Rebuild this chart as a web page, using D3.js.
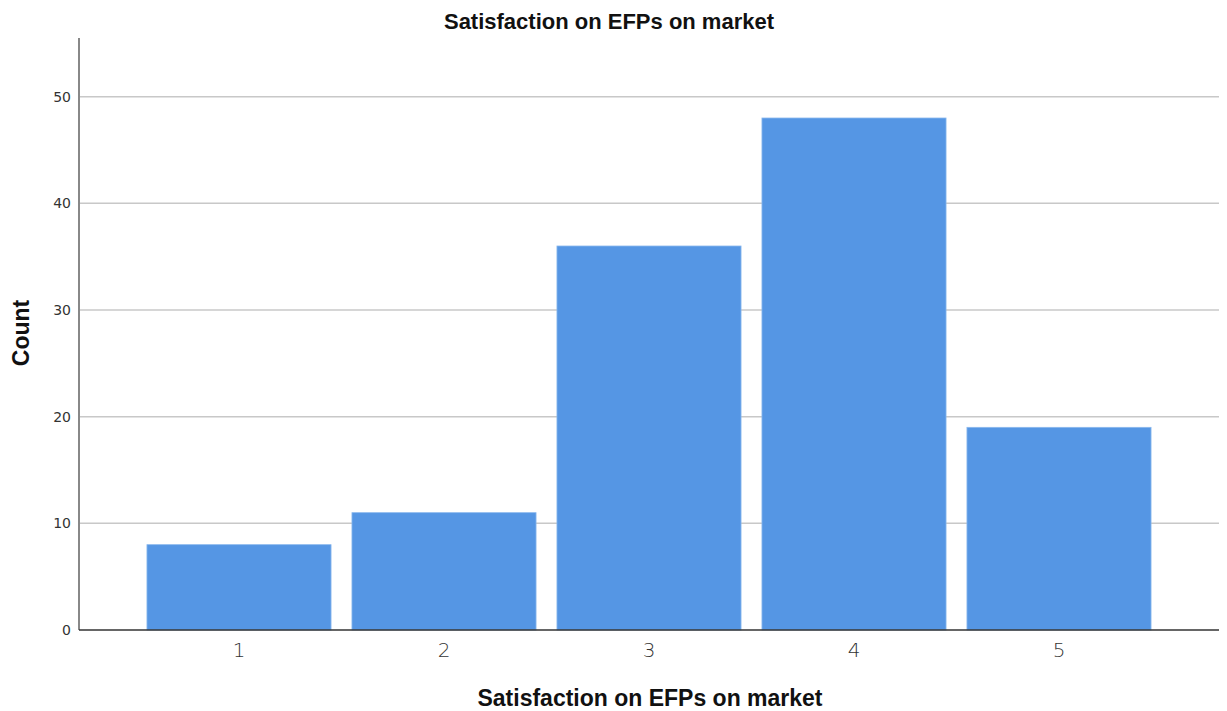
<!DOCTYPE html>
<html>
<head>
<meta charset="utf-8">
<script src="https://cdn.jsdelivr.net/npm/d3@7"></script>
<style>
  body { margin: 0; background: #fff; }
  text { font-family: "Liberation Sans", Arial, sans-serif; }
</style>
</head>
<body>
<svg></svg>
<script>
// data
var categories = ['1', '2', '3', '4', '5'];
var counts = [8, 11, 36, 48, 19];
var yTicks = [0, 10, 20, 30, 40, 50];

var W = 1227, H = 711;
// plotgebied (geen 'top' als naam, dat is window.top)
var plot = { left: 79, right: 1219, top: 38, bottom: 630 };

var svg = d3.select('svg')
    .attr('width', W)
    .attr('height', H);

// schalen
var x = d3.scaleBand()
    .domain(categories)
    .range([plot.left, plot.right])
    .paddingInner(0.102)
    .paddingOuter(0.3315);

var y = d3.scaleLinear()
    .domain([0, 55.5])
    .range([plot.bottom, plot.top]);

// gridlijnen
svg.append('g')
  .selectAll('line')
  .data(yTicks.filter(function(d) { return d > 0; }))
  .enter()
  .append('line')
    .attr('x1', plot.left)
    .attr('x2', plot.right)
    .attr('y1', function(d) { return y(d); })
    .attr('y2', function(d) { return y(d); })
    .attr('stroke', '#c8c8c8')
    .attr('stroke-width', 1.5);

// bars
svg.append('g')
  .selectAll('rect')
  .data(counts)
  .enter()
  .append('rect')
    .attr('x', function(d, i) { return x(categories[i]); })
    .attr('y', function(d) { return y(d); })
    .attr('width', x.bandwidth())
    .attr('height', function(d) { return plot.bottom - y(d); })
    .attr('fill', '#5596e4')
    .attr('stroke', '#8ab8ee')
    .attr('stroke-width', 0.8);

// y as
var yAxis = svg.append('g')
    .attr('transform', 'translate(' + plot.left + ',0)')
    .call(d3.axisLeft(y).tickValues(yTicks).tickSize(0).tickPadding(8));
yAxis.select('.domain').remove();
yAxis.selectAll('text')
    .attr('fill', '#333')
    .style('font-family', '"DejaVu Sans", sans-serif')
    .style('font-size', '14px');

svg.append('line')
    .attr('x1', plot.left).attr('x2', plot.left)
    .attr('y1', plot.top).attr('y2', plot.bottom)
    .attr('stroke', '#888')
    .attr('stroke-width', 2);

// x as
var xAxis = svg.append('g')
    .attr('transform', 'translate(0,' + plot.bottom + ')')
    .call(d3.axisBottom(x).tickSize(0).tickPadding(13));
xAxis.select('.domain').remove();
xAxis.selectAll('text')
    .attr('fill', '#333')
    .style('font-family', '"DejaVu Sans", sans-serif')
    .style('font-size', '20px')
    .style('font-weight', 300);

svg.append('line')
    .attr('x1', plot.left).attr('x2', plot.right)
    .attr('y1', plot.bottom).attr('y2', plot.bottom)
    .attr('stroke', '#333')
    .attr('stroke-width', 1.5);

// titels
svg.append('text')
    .attr('x', 609)
    .attr('y', 29)
    .attr('text-anchor', 'middle')
    .attr('font-size', 22)
    .attr('font-weight', 'bold')
    .attr('fill', '#111')
    .text('Satisfaction on EFPs on market');

svg.append('text')
    .attr('x', 650)
    .attr('y', 706)
    .attr('text-anchor', 'middle')
    .attr('font-size', 23)
    .attr('font-weight', 'bold')
    .attr('fill', '#111')
    .text('Satisfaction on EFPs on market');

svg.append('text')
    .attr('transform', 'translate(29,' + ((plot.top + plot.bottom) / 2 - 1) + ') rotate(-90)')
    .attr('text-anchor', 'middle')
    .attr('font-size', 23)
    .attr('font-weight', 'bold')
    .attr('fill', '#111')
    .text('Count');
</script>
</body>
</html>
